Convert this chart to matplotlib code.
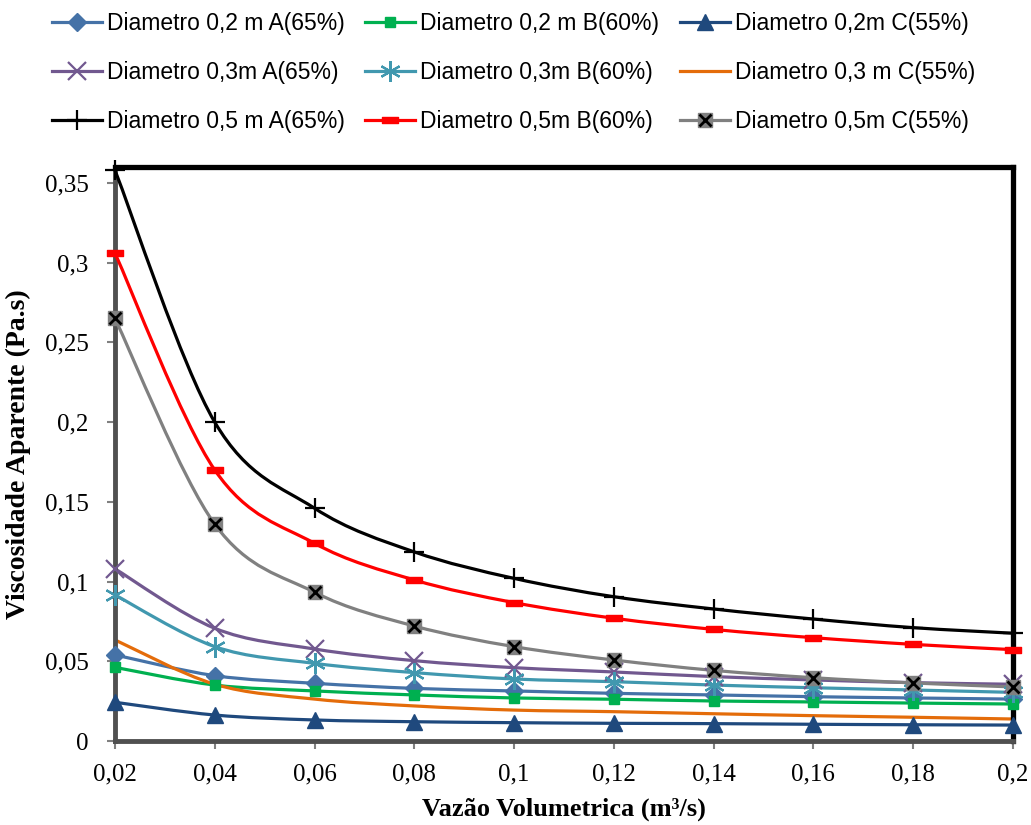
import numpy as np
import matplotlib
matplotlib.use("Agg")
import matplotlib.pyplot as plt
from matplotlib.path import Path
from matplotlib.patches import PathPatch
from matplotlib.lines import Line2D
from matplotlib.legend_handler import HandlerTuple

# Data
vazao = [0.02, 0.04, 0.06, 0.08, 0.10, 0.12, 0.14, 0.16, 0.18, 0.20]
x_labels = ["0,02", "0,04", "0,06", "0,08", "0,1", "0,12", "0,14", "0,16", "0,18", "0,2"]
y_ticks = [0, 0.05, 0.10, 0.15, 0.20, 0.25, 0.30, 0.35]
y_labels = ["0", "0,05", "0,1", "0,15", "0,2", "0,25", "0,3", "0,35"]

d02_a = [0.054, 0.041, 0.0362, 0.033, 0.0314, 0.0299, 0.0289, 0.0278, 0.027, 0.0263]
d02_b = [0.0462, 0.0351, 0.0314, 0.0289, 0.027, 0.0262, 0.0251, 0.0245, 0.0238, 0.0232]
d02_c = [0.0243, 0.0163, 0.0132, 0.0121, 0.0115, 0.0111, 0.0109, 0.0105, 0.0102, 0.0100]
d03_a = [0.108, 0.0707, 0.0577, 0.0504, 0.046, 0.0433, 0.0404, 0.0383, 0.0366, 0.0356]
d03_b = [0.0916, 0.0592, 0.0487, 0.0429, 0.0389, 0.0372, 0.0351, 0.0334, 0.032, 0.0305]
d03_c = [0.0634, 0.0356, 0.0263, 0.022, 0.0194, 0.0184, 0.0171, 0.0159, 0.0149, 0.0138]
d05_a = [0.358, 0.200, 0.146, 0.1186, 0.102, 0.0905, 0.0828, 0.0765, 0.0711, 0.0676]
d05_b = [0.306, 0.170, 0.124, 0.101, 0.0868, 0.077, 0.070, 0.0648, 0.0606, 0.0573]
d05_c = [0.265, 0.136, 0.0933, 0.0721, 0.0592, 0.0508, 0.0443, 0.0397, 0.0364, 0.0339]

names = ["Diametro 0,2 m A(65%)", "Diametro 0,2 m B(60%)", "Diametro 0,2m C(55%)",
         "Diametro 0,3m A(65%)", "Diametro 0,3m B(60%)", "Diametro 0,3 m C(55%)",
         "Diametro 0,5 m A(65%)", "Diametro 0,5m B(60%)", "Diametro 0,5m C(55%)"]
series = [d02_a, d02_b, d02_c, d03_a, d03_b, d03_c, d05_a, d05_b, d05_c]
colors = ["#4572A7", "#00B050", "#1F497D", "#71588F", "#4198AF", "#E46C0A",
          "#000000", "#FF0000", "#808080"]

dash = Path([(-1, -0.45), (1, -0.45), (1, 0.45), (-1, 0.45), (-1, -0.45)],
            [Path.MOVETO, Path.LINETO, Path.LINETO, Path.LINETO, Path.CLOSEPOLY])
markers = [dict(marker="D", ms=9, mfc=colors[0], mec=colors[0]),
           dict(marker="s", ms=7, mfc=colors[1], mec=colors[1]),
           dict(marker="^", ms=11, mfc=colors[2], mec=colors[2]),
           dict(marker="x", ms=13, mew=1.6, mfc="none", mec=colors[3]),
           dict(marker=(6, 2, 0), ms=15, mew=1.6, mfc="none", mec=colors[4]),
           None,
           dict(marker="+", ms=15, mew=1.6, mfc="none", mec="black"),
           dict(marker=dash, ms=11, mfc=colors[7], mec=colors[7]),
           dict(marker="s", ms=10, mfc="#808080", mec="#808080")]


def smooth_path(xs, ys):
    # Excel-like smoothed line: Catmull-Rom segments as cubic Bezier curves
    pts = np.column_stack([xs, ys])
    verts = [pts[0]]
    codes = [Path.MOVETO]
    n = len(pts)
    for i in range(n - 1):
        p0 = pts[max(i - 1, 0)]
        p1 = pts[i]
        p2 = pts[i + 1]
        p3 = pts[min(i + 2, n - 1)]
        c1 = p1 + (p2 - p0) / 6.0
        c2 = p2 - (p3 - p1) / 6.0
        verts += [c1, c2, p2]
        codes += [Path.CURVE4] * 3
    return Path(verts, codes)


fig = plt.figure(figsize=(10.31, 8.25), dpi=100)
ax = fig.add_axes([0.1115, 0.1018, 0.871, 0.6958])

handles = []
for i, (vals, col) in enumerate(zip(series, colors)):
    ax.add_patch(PathPatch(smooth_path(vazao, vals), fill=False, edgecolor=col,
                           lw=2.3, zorder=2 + i * 0.1, clip_on=False))
    m = markers[i]
    if m is None:
        handles.append(Line2D([], [], color=col, lw=2.3))
        continue
    ax.plot(vazao, vals, ls="none", clip_on=False, zorder=3 + i * 0.1, **m)
    h = Line2D([], [], color=col, lw=2.3, **m)
    if i == 8:
        ax.plot(vazao, vals, ls="none", marker="x", ms=9, mew=2, color="black",
                clip_on=False, zorder=3.9)
        hx = Line2D([], [], ls="none", marker="x", ms=9, mew=2, color="black")
        h = (h, hx)
    handles.append(h)

ax.set_xlim(0.02, 0.2)
ax.set_ylim(0, 0.36)
ax.set_xticks(vazao)
ax.set_xticklabels(x_labels)
ax.set_yticks(y_ticks)
ax.set_yticklabels(y_labels)
ax.tick_params(axis="both", direction="out", length=6, width=1.5, color="#808080",
               labelsize=18)
ax.tick_params(axis="x", pad=10)
ax.tick_params(axis="y", pad=13)
for lab in ax.get_xticklabels() + ax.get_yticklabels():
    lab.set_fontfamily("Liberation Serif")

for s in ["left", "bottom"]:
    ax.spines[s].set_color("#505050")
    ax.spines[s].set_linewidth(3.5)
for s in ["top", "right"]:
    ax.spines[s].set_color("black")
    ax.spines[s].set_linewidth(3.8)

ax.set_xlabel("Vazão Volumetrica (m³/s)", fontsize=19, fontweight="bold",
              family="Liberation Serif", labelpad=9)
ax.set_ylabel("Viscosidade Aparente (Pa.s)", fontsize=20, fontweight="bold",
              family="Liberation Serif", labelpad=10)

# legend rows: 0,2 / 0,3 / 0,5 ; matplotlib fills column-wise
order = [0, 3, 6, 1, 4, 7, 2, 5, 8]
fig.legend([handles[k] for k in order], [names[k] for k in order], ncol=3,
           loc="upper left", bbox_to_anchor=(0.03, 1.01), frameon=False,
           prop={"family": "Liberation Sans", "size": 16.5},
           handlelength=2.2, handletextpad=0.2, columnspacing=0.9, labelspacing=1.12,
           handler_map={tuple: HandlerTuple(ndivide=1, pad=0)})

fig.savefig("out.png", dpi=100)
